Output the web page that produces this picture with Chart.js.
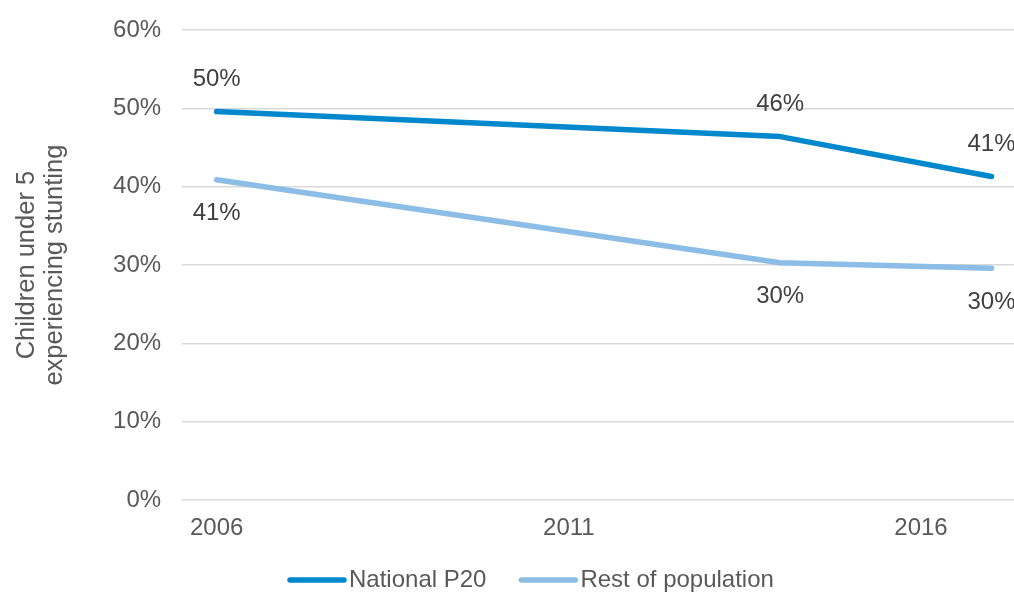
<!DOCTYPE html>
<html>
<head>
<meta charset="utf-8">
<script src="https://cdn.jsdelivr.net/npm/chart.js@4/dist/chart.umd.min.js"></script>
<style>
html,body{margin:0;padding:0;background:#fff;}
#wrap{width:1014px;height:592px;position:relative;}
</style>
</head>
<body>
<div id="wrap"><canvas id="c" width="1014" height="592"></canvas></div>
<script>
const years = [2006, 2014, 2017];
const nationalP20 = [49.6, 46.4, 41.3];
const restOfPopulation = [40.9, 30.3, 29.6];
const seriesNames = ["National P20", "Rest of population"];
const xTickYears = [2006, 2011, 2016];
const yTicks = [0, 10, 20, 30, 40, 50, 60];
const yTitle = ["Children under 5", "experiencing stunting"];

const FONT = '"Liberation Sans", Arial, sans-serif';
const colors = ["#0088cc", "#8bbde6"];

const labelPlugin = {
  id: 'valueLabels',
  afterDatasetsDraw(chart) {
    const ctx = chart.ctx;
    ctx.save();
    ctx.font = '24px ' + FONT;
    ctx.fillStyle = '#404040';
    ctx.textAlign = 'center';
    ctx.textBaseline = 'middle';
    chart.data.datasets.forEach((ds, i) => {
      const meta = chart.getDatasetMeta(i);
      meta.data.forEach((pt, j) => {
        const off = i === 0 ? -32 : 34;
        ctx.fillText(Math.round(ds.data[j].y) + '%', pt.x, pt.y + off);
      });
    });
    ctx.restore();
  }
};

const legendPlugin = {
  id: 'customLegend',
  afterDraw(chart) {
    const ctx = chart.ctx;
    ctx.save();
    ctx.font = '24px ' + FONT;
    ctx.textBaseline = 'middle';
    ctx.textAlign = 'left';
    let x = 290;
    const y = 580;
    chart.data.datasets.forEach((ds, i) => {
      ctx.strokeStyle = ds.borderColor;
      ctx.lineWidth = 5.5;
      ctx.lineCap = 'round';
      ctx.beginPath();
      ctx.moveTo(x, y);
      ctx.lineTo(x + 54, y);
      ctx.stroke();
      x += 59;
      ctx.fillStyle = '#595959';
      ctx.fillText(ds.label, x, y);
      x += ctx.measureText(ds.label).width + 35;
    });
    ctx.restore();
  }
};

const toPoints = (vals) => vals.map((v, i) => ({x: years[i], y: v}));

new Chart(document.getElementById('c'), {
  type: 'line',
  data: {
    datasets: [
      {label: seriesNames[0], data: toPoints(nationalP20), borderColor: colors[0], backgroundColor: colors[0]},
      {label: seriesNames[1], data: toPoints(restOfPopulation), borderColor: colors[1], backgroundColor: colors[1]}
    ]
  },
  options: {
    responsive: false,
    animation: false,
    layout: {padding: {top: 30, right: 0, bottom: 35, left: 0}},
    elements: {
      line: {borderWidth: 5.5, borderCapStyle: 'round', borderJoinStyle: 'round', tension: 0, fill: false},
      point: {radius: 0, hoverRadius: 0}
    },
    plugins: {legend: {display: false}, tooltip: {enabled: false}},
    scales: {
      x: {
        type: 'linear',
        min: 2005.51,
        max: 2017.32,
        grid: {display: false, drawTicks: false},
        border: {display: false},
        afterBuildTicks: (s) => { s.ticks = xTickYears.map(v => ({value: v})); },
        ticks: {
          padding: 14,
          color: '#595959',
          font: {family: FONT, size: 24},
          maxRotation: 0,
          autoSkip: false,
          callback: (v) => String(v)
        }
      },
      y: {
        min: 0,
        max: 60,
        afterBuildTicks: (s) => { s.ticks = yTicks.map(v => ({value: v})); },
        afterFit: (s) => { s.paddingTop = 14; s.paddingBottom = 14; },
        grid: {color: '#d9d9d9', lineWidth: 1.5, drawTicks: false},
        border: {display: false},
        ticks: {
          padding: 21,
          color: '#595959',
          font: {family: FONT, size: 24},
          callback: (v) => v + '%'
        },
        title: {
          display: true,
          text: yTitle,
          color: '#595959',
          font: {family: FONT, size: 25.5, lineHeight: 1.1},
          padding: {top: 13, bottom: 23}
        }
      }
    }
  },
  plugins: [labelPlugin, legendPlugin]
});
</script>
</body>
</html>
